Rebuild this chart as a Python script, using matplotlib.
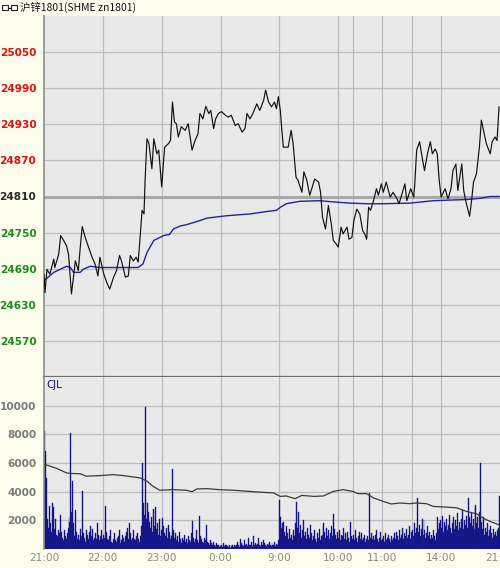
import numpy as np
import matplotlib
matplotlib.use("Agg")
import matplotlib.pyplot as plt
from matplotlib.patches import Rectangle
from matplotlib.lines import Line2D

# minutes since 21:00 (night 21:00-1:00, then 9:00-10:15, 10:30-11:30, 13:30-15:00)
price_min = [0, 1, 3, 6, 10, 11, 15, 17, 20, 23, 25, 28, 32, 35, 37, 39, 42, 45, 49, 52,
             55, 57, 61, 64, 67, 71, 74, 77, 79, 83, 86, 88, 91, 94, 96, 98, 100, 102, 103, 105,
             107, 110, 112, 115, 117, 120, 123, 127, 129, 131, 133, 135, 137, 140, 144, 147, 149, 151, 154, 157,
             159, 162, 165, 168, 170, 173, 175, 178, 181, 185, 188, 191, 195, 198, 202, 205, 207, 210, 213, 217,
             220, 224, 226, 229, 232, 235, 237, 239, 241, 242, 244, 247, 249, 252, 254, 257, 259, 263, 265, 268,
             271, 273, 276, 280, 282, 284, 287, 290, 293, 295, 298, 300, 303, 305, 309, 311, 314, 316, 319, 322,
             325, 327, 329, 331, 333, 336, 339, 341, 344, 346, 349, 353, 356, 360, 362, 365, 368, 370, 374, 377,
             378, 380, 383, 385, 388, 391, 394, 396, 399, 401, 403, 405, 409, 412, 415, 417, 420, 422, 426, 428,
             430, 434, 436, 438, 441, 444, 446, 449, 451, 455, 457, 460, 462, 464]
price = [24680, 24650, 24689, 24681, 24706, 24692, 24714, 24745, 24737, 24728, 24714, 24648, 24703, 24687, 24726, 24760, 24742, 24728, 24709, 24698,
         24678, 24709, 24681, 24667, 24656, 24676, 24687, 24712, 24703, 24676, 24678, 24712, 24703, 24709, 24701, 24742, 24787, 24781, 24834, 24906,
         24898, 24856, 24906, 24881, 24887, 24826, 24892, 24898, 24903, 24967, 24934, 24931, 24909, 24926, 24920, 24931, 24909, 24887, 24903, 24914,
         24948, 24939, 24960, 24948, 24953, 24923, 24939, 24948, 24951, 24945, 24942, 24945, 24928, 24931, 24917, 24923, 24948, 24939, 24948, 24964,
         24953, 24970, 24987, 24967, 24959, 24967, 24956, 24976, 24953, 24931, 24892, 24892, 24892, 24920, 24898, 24842, 24837, 24817, 24851, 24837,
         24812, 24823, 24839, 24834, 24817, 24776, 24756, 24795, 24764, 24737, 24731, 24726, 24759, 24748, 24759, 24739, 24742, 24770, 24789, 24781,
         24753, 24748, 24739, 24792, 24787, 24803, 24823, 24812, 24831, 24817, 24834, 24809, 24817, 24806, 24798, 24814, 24831, 24803, 24823, 24809,
         24828, 24887, 24901, 24881, 24853, 24881, 24901, 24881, 24889, 24881, 24837, 24809, 24823, 24806, 24823, 24853, 24864, 24820, 24864, 24820,
         24803, 24777, 24803, 24834, 24848, 24892, 24937, 24914, 24898, 24881, 24901, 24909, 24903, 24959]

avg_min = [0, 10, 23, 27, 30, 37, 40, 47, 57, 96, 101, 105, 112, 122, 128, 132, 139, 145, 159, 166,
           186, 210, 227, 237, 241, 247, 261, 281, 295, 312, 329, 346, 373, 397, 431, 445, 455, 464]
avg_price = [24670, 24684, 24694, 24692, 24684, 24684, 24689, 24694, 24692, 24692, 24698, 24717, 24737, 24745, 24747, 24756, 24761, 24763, 24770, 24774,
             24778, 24781, 24785, 24787, 24792, 24798, 24802, 24803, 24801, 24799, 24798, 24798, 24799, 24803, 24805, 24807, 24810, 24810]

volume = [
    8250, 6830, 4960, 2100, 1500, 2980, 1800, 1200, 3200, 2900, 1400, 2100, 1000, 900, 1300,
    1100, 2390, 1200, 800, 600, 1300, 900, 700, 1100, 1500, 2200, 1900, 8120, 2600, 4730,
    1800, 900, 2740, 1200, 700, 1000, 600, 1400, 900, 4030, 1100, 800, 500, 1300, 1000,
    700, 1200, 1580, 900, 1400, 600, 800, 1100, 700, 1800, 1000, 600, 900, 1300, 700,
    1000, 800, 2980, 1200, 700, 600, 900, 1300, 500, 400, 700, 1100, 600, 500, 800,
    900, 1330, 700, 400, 600, 1000, 800, 500, 900, 1200, 1500, 700, 1800, 1100, 600,
    800, 1300, 700, 600, 900, 1100, 700, 500, 900, 1600, 5970, 3200, 2400, 9940, 2100,
    3200, 2600, 1900, 1500, 2200, 1200, 2800, 1600, 2900, 1400, 1800, 1000, 2100, 900, 1300,
    2150, 1600, 1100, 900, 1500, 800, 1700, 1200, 700, 1000, 900, 5550, 1300, 800, 1100,
    600, 900, 500, 1200, 700, 400, 800, 600, 1000, 500, 700, 400, 900, 600, 500,
    1100, 1920, 800, 500, 700, 1300, 600, 400, 2270, 900, 700, 500, 400, 800, 600,
    1650, 500, 400, 300, 600, 400, 250, 500, 300, 200, 400, 250, 300, 150, 200,
    250, 300, 150, 400, 200, 250, 300, 200, 150, 250, 100, 200, 300, 150, 250,
    200, 300, 500, 250, 150, 700, 400, 300, 200, 600, 250, 350, 200, 800, 300,
    250, 500, 200, 900, 300, 400, 250, 350, 800, 300, 200, 500, 250, 600, 400,
    300, 200, 350, 250, 500, 300, 200, 400, 250, 300, 500, 200, 350, 300, 600,
    3430, 2200, 1500, 1800, 1900, 1200, 900, 1600, 1100, 700, 1400, 800, 1000, 600, 1300,
    900, 1800, 3260, 1500, 2600, 1100, 1700, 800, 1300, 2000, 900, 1200, 700, 1500, 1000,
    800, 1650, 1100, 600, 900, 1300, 700, 500, 1100, 800, 1400, 600, 900, 1000, 1600,
    1800, 1200, 800, 1500, 900, 1300, 700, 1100, 1600, 900, 2430, 1400, 1000, 700, 1200,
    800, 1300, 600, 1000, 900, 1500, 700, 1100, 600, 1200, 800, 500, 1900, 900, 700,
    1000, 600, 1300, 800, 500, 900, 1200, 700, 1100, 600, 800, 1000, 500, 700, 900,
    600, 3900, 800, 1100, 700, 500, 900, 600, 1000, 1300, 700, 500, 800, 1200, 600,
    700, 900, 500, 1100, 600, 800, 1000, 700, 500, 900, 600, 800, 1100, 700, 1200,
    900, 600, 1300, 800, 1000, 1500, 700, 1100, 900, 1400, 800, 1000, 1600, 700, 1200,
    1300, 900, 1800, 1100, 1500, 3540, 1200, 1700, 900, 1400, 2100, 1000, 2000, 1300, 800,
    1100, 1600, 900, 1200, 700, 1000, 800, 1300, 900, 600, 1100, 2200, 1400, 1800, 2000,
    1500, 2300, 1200, 1900, 1600, 2100, 1300, 1700, 2400, 1500, 1100, 1800, 2200, 1400, 2000,
    1600, 2500, 1300, 1900, 1500, 2100, 2700, 1400, 2000, 1700, 2300, 1500, 3540, 2200, 1800,
    2500, 1600, 2100, 1400, 2900, 3100, 1800, 2200, 1500, 2600, 5970, 1900, 1400, 2200, 1000,
    1500, 1200, 1800, 900, 1300, 1600, 1100, 800, 1400, 1000, 1200, 900, 1300, 1500, 3720,
]

vavg_min = [1, 13, 23, 28, 37, 43, 57, 71, 81, 98, 105, 111, 118, 132, 145, 151, 156, 166, 179, 193,
            213, 234, 241, 247, 256, 263, 275, 285, 295, 305, 315, 320, 329, 336, 346, 354, 363, 373, 380, 390,
            397, 411, 421, 431, 441, 448, 455, 464]
vavg = [5900, 5620, 5310, 5270, 5250, 5080, 5120, 5190, 5120, 4960, 4730, 4380, 4100, 4140, 4100, 4000, 4190, 4210, 4140, 4100,
        4000, 3910, 3670, 3700, 3510, 3740, 3670, 3700, 4020, 4140, 4020, 3860, 3860, 3560, 3320, 3140, 3210, 3160, 3210, 3160,
        2970, 2920, 2870, 2620, 2460, 2150, 1920, 1690]

prev_close = 24810
price_ticks = [24570, 24630, 24690, 24750, 24810, 24870, 24930, 24990, 25050]
vol_ticks = [2000, 4000, 6000, 8000, 10000]
grid_min = [60, 120, 180, 240, 300, 315, 345, 375, 405]
label_min = [0, 60, 120, 180, 240, 300, 345, 405, 465]
time_labels = ["21:00", "22:00", "23:00", "0:00", "9:00", "10:00", "11:00", "14:00", "21:00"]

BG = "#fdfdee"
PANEL = "#e9e9e9"
GRID = "#bdbdbd"

fig = plt.figure(figsize=(5.0, 5.68), dpi=100, facecolor=BG)
ax = fig.add_axes([44 / 500, 1 - 377 / 568, 456 / 500, 361 / 568], facecolor=PANEL)
axv = fig.add_axes([44 / 500, 1 - 549 / 568, 456 / 500, 172 / 568], facecolor=PANEL, sharex=ax)

for a in (ax, axv):
    for m in grid_min:
        a.axvline(m, color=GRID, lw=0.9, zorder=0)
    for s in ("top", "right"):
        a.spines[s].set_visible(False)
    a.spines["left"].set_color("#8c8c8c")
    a.spines["left"].set_linewidth(1.2)
    a.tick_params(length=0)

# price panel
for t in price_ticks:
    if t == prev_close:
        ax.axhline(t, color="#a9a9a9", lw=2.2, zorder=1)
    else:
        ax.axhline(t, color=GRID, lw=0.9, zorder=0)
ax.plot(avg_min, avg_price, color="#23239a", lw=1.0, zorder=3)
ax.plot(price_min, price, color="#111111", lw=0.85, zorder=4)
ax.set_xlim(0, 465)
ax.set_ylim(24510, 25110)
ax.set_yticks(price_ticks)
ax.set_yticklabels([str(t) for t in price_ticks], fontsize=7.6, fontweight="bold")
for lab, t in zip(ax.get_yticklabels(), price_ticks):
    lab.set_color("#e01010" if t > prev_close else ("#2a2a2a" if t == prev_close else "#1e8a1e"))
ax.tick_params(axis="y", pad=5.5)
ax.tick_params(axis="x", labelbottom=False)
ax.spines["bottom"].set_color("#6e6e6e")
ax.spines["bottom"].set_linewidth(1.6)

# volume panel
for t in vol_ticks:
    axv.axhline(t, color=GRID, lw=0.9, zorder=0)
axv.bar(np.arange(len(volume)), volume, width=1.0, align="edge", color="#000080",
        edgecolor="#2a2a96", linewidth=0.3, zorder=2)
axv.plot(vavg_min, vavg, color="#3a3a3a", lw=0.9, zorder=3)
axv.set_ylim(0, 12000)
axv.set_yticks(vol_ticks)
axv.set_yticklabels([str(t) for t in vol_ticks], fontsize=7.6, fontweight="bold", color="#7a7a7a")
axv.tick_params(axis="y", pad=5.5)
axv.spines["bottom"].set_visible(False)
axv.set_xticks(label_min)
axv.set_xticklabels(time_labels, fontsize=7.6, color="#8a8a8a")
axv.tick_params(axis="x", pad=3)
axv.text(2, 11450, "CJL", fontsize=7.4, color="#101080", va="center", ha="left")

# title bar
fig.text(20 / 500, 1 - 7 / 568, "沪锌1801(SHME zn1801)", fontsize=7.5,
         family=["Noto Sans CJK SC", "DejaVu Sans"], va="center", ha="left", color="#111111")
for x0 in (2, 11):
    fig.patches.append(Rectangle((x0 / 500, 1 - 10 / 568), 6 / 500, 5 / 568, transform=fig.transFigure,
                                 fill=False, edgecolor="#222222", lw=0.8))
fig.lines.append(Line2D([8 / 500, 11 / 500], [1 - 7.5 / 568, 1 - 7.5 / 568], transform=fig.transFigure,
                        color="#222222", lw=0.8))

fig.savefig("out.png", dpi=100, facecolor=BG)
